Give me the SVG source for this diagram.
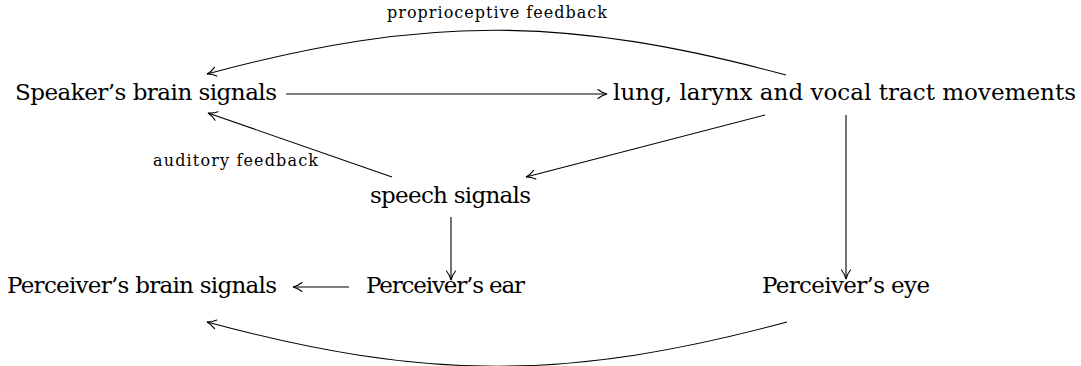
<svg xmlns="http://www.w3.org/2000/svg" width="1081" height="366" viewBox="0 0 1081 366">
<style>
text{fill:#000;text-anchor:middle;font-family:"DejaVu Serif",serif}
.t{font-size:23px}
.s{font-size:16px}
.e{fill:none;stroke:#000;stroke-width:1.1}
</style>
<defs>
<marker id="ah" markerUnits="userSpaceOnUse" markerWidth="14" markerHeight="12" viewBox="-11 -6 13 12" refX="0" refY="0" orient="auto">
<path d="M-9,-4.5 C-6,-2 -2.5,-0.6 0,0 C-2.5,0.6 -6,2 -9,4.5" fill="none" stroke="#000" stroke-width="1.1" stroke-linecap="round"/>
</marker>
</defs>
<rect width="1081" height="366" fill="#fff"/>
<g id="connectors">
<line class="e" x1="286" y1="94" x2="607" y2="94" marker-end="url(#ah)"/>
<path class="e" d="M786,75 C567,16 426,15 207,74" marker-end="url(#ah)"/>
<line class="e" x1="392" y1="177" x2="208" y2="113" marker-end="url(#ah)"/>
<line class="e" x1="765" y1="115" x2="526" y2="177" marker-end="url(#ah)"/>
<line class="e" x1="451" y1="217" x2="451" y2="280" marker-end="url(#ah)"/>
<line class="e" x1="846" y1="115" x2="846" y2="279" marker-end="url(#ah)"/>
<line class="e" x1="349" y1="287" x2="293" y2="287" marker-end="url(#ah)"/>
<path class="e" d="M787,322 C568,381 426,381 207,322" marker-end="url(#ah)"/>
<text class="s" x="497" y="18" textLength="220">proprioceptive feedback</text>
<text class="s" x="235.5" y="166" textLength="165">auditory feedback</text>
</g>
<g id="speaker-brain"><text class="t" x="146" y="100" textLength="262">Speaker’s brain signals</text></g>
<g id="movements"><text class="t" x="844.5" y="100" textLength="463">lung, larynx and vocal tract movements</text></g>
<g id="speech"><text class="t" x="450.5" y="203" textLength="161">speech signals</text></g>
<g id="perceiver-brain"><text class="t" x="142" y="293" textLength="270">Perceiver’s brain signals</text></g>
<g id="perceiver-ear"><text class="t" x="445.5" y="293" textLength="159">Perceiver’s ear</text></g>
<g id="perceiver-eye"><text class="t" x="846" y="293" textLength="168">Perceiver’s eye</text></g>
</svg>
